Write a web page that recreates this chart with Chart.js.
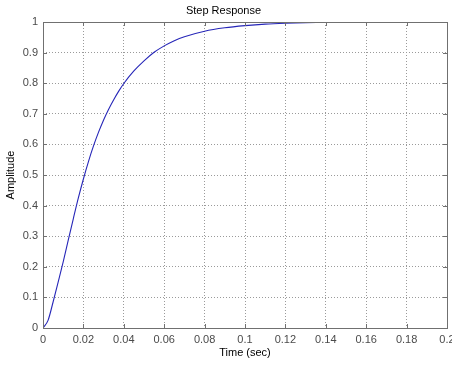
<!DOCTYPE html>
<html>
<head>
<meta charset="utf-8">
<script src="https://cdn.jsdelivr.net/npm/chart.js@4/dist/chart.umd.min.js"></script>
<style>
  body { margin: 0; background: #fff; }
</style>
</head>
<body>
<canvas id="chart-step" width="452" height="366"></canvas>
<script>
const stepTimes = [0, 0.0025, 0.005, 0.0075, 0.01, 0.0125, 0.015, 0.0175, 0.02, 0.0225, 0.025, 0.0275, 0.03, 0.0325, 0.035, 0.0375, 0.04, 0.045, 0.05, 0.055, 0.06, 0.065, 0.07, 0.08, 0.09, 0.1, 0.11, 0.12, 0.13, 0.138];
const stepAmplitude = [0, 0.025, 0.085, 0.15, 0.216, 0.287, 0.357, 0.425, 0.487, 0.544, 0.595, 0.64, 0.68, 0.715, 0.746, 0.774, 0.799, 0.84, 0.873, 0.901, 0.922, 0.939, 0.952, 0.97, 0.981, 0.988, 0.993, 0.996, 0.998, 0.999];
const xTickLabels = ["0", "0.02", "0.04", "0.06", "0.08", "0.1", "0.12", "0.14", "0.16", "0.18", "0.2"];
const yTickLabels = ["0", "0.1", "0.2", "0.3", "0.4", "0.5", "0.6", "0.7", "0.8", "0.9", "1"];

Chart.defaults.font.family = "'Liberation Sans', Arial, sans-serif";
Chart.defaults.font.size = 11;

const stepPoints = stepTimes.map((t, i) => ({ x: t, y: stepAmplitude[i] }));

// matlab style box round the axes, with tick marks pointing inward
const axesBox = {
  id: "axesBox",
  afterDraw(chart) {
    const { ctx, chartArea: a, scales } = chart;
    ctx.save();
    ctx.strokeStyle = "#707070";
    ctx.lineWidth = 1;
    ctx.beginPath();
    scales.x.ticks.forEach((t) => {
      const px = Math.round(scales.x.getPixelForValue(t.value)) + 0.5;
      ctx.moveTo(px, a.bottom);
      ctx.lineTo(px, a.bottom - 4);
      ctx.moveTo(px, a.top);
      ctx.lineTo(px, a.top + 4);
    });
    scales.y.ticks.forEach((t) => {
      const py = Math.round(scales.y.getPixelForValue(t.value)) + 0.5;
      ctx.moveTo(a.left, py);
      ctx.lineTo(a.left + 4, py);
      ctx.moveTo(a.right, py);
      ctx.lineTo(a.right - 4, py);
    });
    ctx.stroke();
    ctx.strokeRect(Math.round(a.left) + 0.5, Math.round(a.top) + 0.5,
      Math.round(a.right - a.left), Math.round(a.bottom - a.top));
    ctx.restore();
  },
};

const stepConfig = {
  type: "line",
  data: {
    datasets: [
      {
        label: "Step",
        data: stepPoints,
        borderColor: "#2626b8",
        borderWidth: 1.1,
        pointRadius: 0,
        cubicInterpolationMode: "monotone",
        fill: false,
      },
    ],
  },
  options: {
    responsive: false,
    animation: false,
    layout: {
      padding: { left: 0, right: 5, top: 0, bottom: 0 },
    },
    plugins: {
      legend: { display: false },
      tooltip: { enabled: false },
      title: {
        display: true,
        text: "Step Response",
        color: "#000",
        font: { size: 11, weight: "normal" },
        padding: { top: 4, bottom: 4.8 },
      },
    },
    scales: {
      x: {
        type: "linear",
        min: 0,
        max: 0.2,
        grid: {
          color: "#9a9a9a",
          drawTicks: false,
        },
        border: { display: false, dash: [1, 2] },
        ticks: {
          stepSize: 0.02,
          autoSkip: false,
          maxRotation: 0,
          padding: 5,
          color: "#4a4a4a",
          callback: (value, index) => xTickLabels[index],
        },
        title: {
          display: true,
          text: "Time (sec)",
          color: "#000",
          font: { size: 11 },
          padding: { top: 0, bottom: 6 },
        },
        afterFit: (scale) => {
          scale.height = 38;
          scale.paddingLeft = 0;
          scale.paddingRight = 0;
        },
      },
      y: {
        min: 0,
        max: 1,
        grid: {
          color: "#9a9a9a",
          drawTicks: false,
        },
        border: { display: false, dash: [1, 2] },
        ticks: {
          stepSize: 0.1,
          padding: 5,
          color: "#4a4a4a",
          callback: (value, index) => yTickLabels[index],
        },
        title: {
          display: true,
          text: "Amplitude",
          color: "#000",
          font: { size: 11 },
          padding: { top: 4, bottom: 0 },
        },
        afterFit: (scale) => {
          scale.width = 43;
          scale.paddingTop = 0;
          scale.paddingBottom = 0;
        },
      },
    },
  },
  plugins: [axesBox],
};

const stepChart = new Chart(document.getElementById("chart-step"), stepConfig);
</script>
</body>
</html>
